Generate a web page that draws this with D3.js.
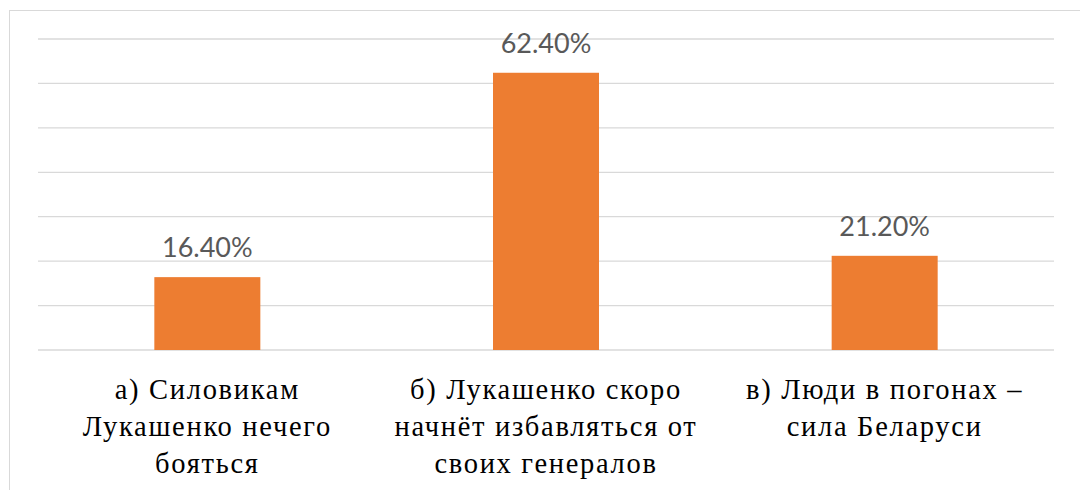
<!DOCTYPE html>
<html>
<head>
<meta charset="utf-8">
<script src="https://cdn.jsdelivr.net/npm/d3@7"></script>
<style>
  html, body { margin: 0; padding: 0; background: #fff; }
  svg { display: block; }
  .cat { font-family: "Liberation Serif", "Times New Roman", serif; font-size: 28.5px; letter-spacing: 1.7px; fill: #000; }
  .val { font-family: Lato, "Liberation Sans", sans-serif; font-size: 27px; fill: #595959; }
</style>
</head>
<body>
<svg id="chart" width="1080" height="490"></svg>
<script>
// Survey answers and their shares (%)
const categories = [
  "а) Силовикам Лукашенко нечего бояться",
  "б) Лукашенко скоро начнёт избавляться от своих генералов",
  "в) Люди в погонах – сила Беларуси"
];
const values = [16.4, 62.4, 21.2];
const yTicks = [0, 10, 20, 30, 40, 50, 60, 70];

const svg = d3.select("#chart");
const plot = { left: 38, right: 1054, top: 39, bottom: 350 };

// Chart area frame
svg.append("rect")
  .attr("x", 9.5).attr("y", 10.5)
  .attr("width", 1100).attr("height", 500)
  .attr("fill", "#fff").attr("stroke", "#d9d9d9").attr("stroke-width", 1);

const x = d3.scaleBand()
  .domain(categories)
  .range([plot.left, plot.right])
  .paddingInner(0.687)
  .paddingOuter(0.3435);

const y = d3.scaleLinear()
  .domain([0, 70])
  .range([plot.bottom, plot.top]);

// Horizontal gridlines
svg.append("g")
  .selectAll("line")
  .data(yTicks)
  .join("line")
  .attr("x1", plot.left).attr("x2", plot.right)
  .attr("y1", d => y(d)).attr("y2", d => y(d))
  .attr("stroke", "#d9d9d9").attr("stroke-width", 1.3);

// Bars
svg.append("g")
  .selectAll("rect")
  .data(values)
  .join("rect")
  .attr("x", (d, i) => x(categories[i]))
  .attr("y", d => y(d))
  .attr("width", x.bandwidth())
  .attr("height", d => y(0) - y(d))
  .attr("fill", "#ED7D31");

// Value labels
svg.append("g")
  .selectAll("text")
  .data(values)
  .join("text")
  .attr("class", "val")
  .attr("x", (d, i) => x(categories[i]) + x.bandwidth() / 2)
  .attr("y", d => y(d) - 20)
  .attr("text-anchor", "middle")
  .text(d => d.toFixed(2) + "%");

// Category labels, wrapped to fit under each bar
const wrapWidth = 312;
const gx = svg.append("g");

categories.forEach(cat => {
  const cx = x(cat) + x.bandwidth() / 2;
  const t = gx.append("text").attr("class", "cat").attr("text-anchor", "middle");
  const words = cat.split(" ");
  let lines = [], line = [];
  const probe = t.append("tspan");
  words.forEach(w => {
    const trial = line.concat([w]).join(" ");
    probe.text(trial);
    if (probe.node().getComputedTextLength() > wrapWidth && line.length) {
      lines.push(line.join(" "));
      line = [w];
    } else {
      line.push(w);
    }
  });
  lines.push(line.join(" "));
  probe.remove();
  lines.forEach((l, i) => {
    t.append("tspan")
      .attr("x", cx)
      .attr("y", plot.bottom + 49 + i * 37)
      .text(l);
  });
});
</script>
</body>
</html>
